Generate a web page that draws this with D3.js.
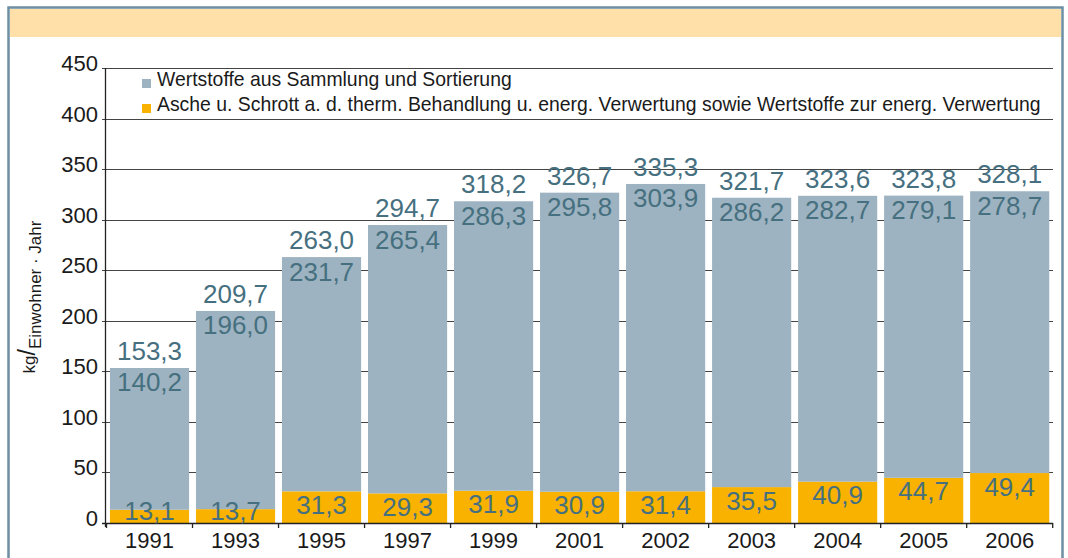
<!DOCTYPE html>
<html>
<head>
<meta charset="utf-8">
<style>
  body { margin: 0; background: #fff; }
  svg { display: block; font-family: "Liberation Sans", Arial, sans-serif; }
</style>
</head>
<body>
<svg width="1068" height="558"></svg>
<script src="https://d3js.org/d3.v7.min.js"></script>
<script>

  var years = ["1991", "1993", "1995", "1997", "1999", "2001", "2002", "2003", "2004", "2005", "2006"];
  var wertstoffe = [140.2, 196.0, 231.7, 265.4, 286.3, 295.8, 303.9, 286.2, 282.7, 279.1, 278.7];
  var asche = [13.1, 13.7, 31.3, 29.3, 31.9, 30.9, 31.4, 35.5, 40.9, 44.7, 49.4];
  var yTicks = [0, 50, 100, 150, 200, 250, 300, 350, 400, 450];
  var legendLabels = [
    "Wertstoffe aus Sammlung und Sortierung",
    "Asche u. Schrott a. d. therm. Behandlung u. energ. Verwertung sowie Wertstoffe zur energ. Verwertung"
  ];

  var grey = "#9db3c1", orange = "#f9b200", labelCol = "#46707f";

  var svg = d3.select("svg"),
    width = +svg.attr("width"),
    height = +svg.attr("height");

  // frame + header band
  svg.append("rect").attr("x", 8.5).attr("y", 7.5).attr("width", 1054).attr("height", 560)
    .attr("fill", "#fff").attr("stroke", "#6e8fa3").attr("stroke-width", 2.5);
  svg.append("rect").attr("x", 10).attr("y", 9).attr("width", 1051).attr("height", 28)
    .attr("fill", "#ffe0a8");

  var rows = years.map(function(y, i) {
    return {year: y, asche: asche[i], wert: wertstoffe[i]};
  });

  var X = d3.scaleBand().domain(years).range([106.5, 1052.7]).paddingInner(0.08).paddingOuter(0.04);
  var Y = d3.scaleLinear().domain([0, 450]).range([523, 68]);

  // gridlines
  svg.append("g").selectAll("line")
    .data(yTicks.filter(function(d) { return d > 0; }))
    .enter().append("line")
    .attr("x1", 102).attr("x2", 1053)
    .attr("y1", function(d) { return Math.round(Y(d)) + 0.5; })
    .attr("y2", function(d) { return Math.round(Y(d)) + 0.5; })
    .attr("stroke", "#444").attr("stroke-width", 1);

  // y tick labels
  svg.append("g").selectAll("text")
    .data(yTicks)
    .enter().append("text")
    .attr("x", 98)
    .attr("y", function(d) { return Y(d) + 3; })
    .attr("text-anchor", "end")
    .attr("font-size", 22)
    .attr("fill", "#1a1a1a")
    .text(function(d) { return d; });

  // stacked bars
  var stack = d3.stack().keys(["asche", "wert"])(rows);
  var colors = {asche: orange, wert: grey};

  svg.append("g").selectAll("g")
    .data(stack)
    .enter().append("g")
    .attr("fill", function(s) { return colors[s.key]; })
    .selectAll("rect")
    .data(function(s) { return s; })
    .enter().append("rect")
    .attr("x", function(d) { return X(d.data.year); })
    .attr("width", X.bandwidth())
    .attr("y", function(d) { return Y(d[1]); })
    .attr("height", function(d) { return Y(d[0]) - Y(d[1]); });

  // axes lines
  svg.append("line").attr("x1", 105.5).attr("x2", 105.5).attr("y1", 68).attr("y2", 527)
    .attr("stroke", "#222").attr("stroke-width", 1.3);
  svg.append("line").attr("x1", 102).attr("x2", 1053).attr("y1", 523.5).attr("y2", 523.5)
    .attr("stroke", "#222").attr("stroke-width", 1.3);

  // x ticks at band boundaries
  var bounds = years.map(function(y) { return X(y) - X.step() * X.paddingInner() / 2; });
  bounds.push(X.range()[1]);
  svg.append("g").selectAll("line")
    .data(bounds)
    .enter().append("line")
    .attr("x1", function(d) { return d; }).attr("x2", function(d) { return d; })
    .attr("y1", 523).attr("y2", 528)
    .attr("stroke", "#222").attr("stroke-width", 1.3);

  // year labels
  svg.append("g").selectAll("text")
    .data(years)
    .enter().append("text")
    .attr("x", function(d) { return X(d) + X.bandwidth() / 2; })
    .attr("y", 548)
    .attr("text-anchor", "middle")
    .attr("font-size", 22)
    .attr("fill", "#1a1a1a")
    .text(function(d) { return d; });

  var fmt = function(v) { return d3.format(".1f")(v).replace(".", ","); };
  var valLabels = svg.append("g")
    .attr("font-size", 26).attr("fill", labelCol).attr("text-anchor", "middle");

  rows.forEach(function(r) {
    var cx = X(r.year) + X.bandwidth() / 2;
    var top = Y(r.asche + r.wert);
    valLabels.append("text").attr("x", cx).attr("y", top - 8).text(fmt(r.asche + r.wert));
    valLabels.append("text").attr("x", cx).attr("y", top + 23.5).text(fmt(r.wert));
    valLabels.append("text").attr("x", cx)
      .attr("y", Math.min(Y(r.asche) + 22.5, 520)).text(fmt(r.asche));
  });

  // legend
  var legend = svg.append("g");
  legendLabels.forEach(function(t, i) {
    legend.append("rect").attr("x", 142).attr("y", 79 + i * 25).attr("width", 9).attr("height", 9)
      .attr("fill", i === 0 ? grey : orange);
    legend.append("text").attr("x", 157).attr("y", 86 + i * 25)
      .attr("font-size", 17).attr("fill", "#1a1a1a").text(t);
  });
  var longT = legend.selectAll("text").nodes()[1];
  var w = longT.getComputedTextLength();
  var fs = 17 * 884 / w;
  legend.selectAll("text").attr("font-size", fs);

  // y axis title
  var yt = svg.append("text")
    .attr("transform", "translate(41,297) rotate(-90)")
    .attr("text-anchor", "middle")
    .attr("font-size", 17)
    .attr("fill", "#1a1a1a");
  yt.append("tspan").attr("dy", -6).text("kg");
  yt.append("tspan").attr("dy", 0).attr("font-size", 23).text("/");
  yt.append("tspan").attr("dy", 6).text("Einwohner · Jahr");

</script>
</body>
</html>
